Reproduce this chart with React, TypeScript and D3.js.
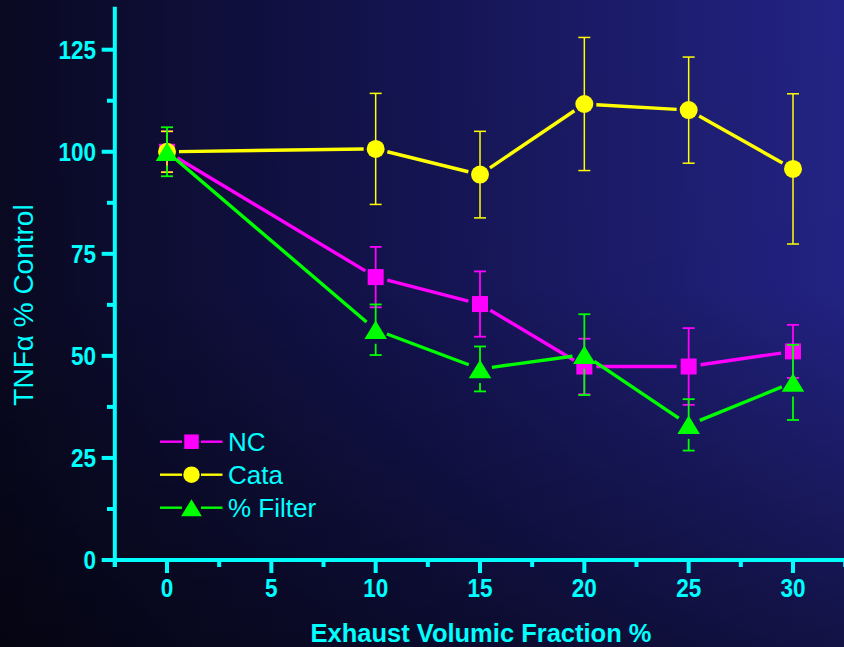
import React from "react";
import * as d3 from "d3";

const xValues = [0, 10, 15, 20, 25, 30];
const ncMean = [100, 69.3, 62.7, 47.4, 47.4, 51.1];
const ncErr = [5, 7.4, 8, 6.8, 9.4, 6.5];
const cataMean = [100, 100.7, 94.4, 111.7, 110.2, 95.8];
const cataErr = [5, 13.6, 10.6, 16.3, 13, 18.4];
const filterMean = [100, 56.4, 46.8, 50.3, 33.1, 43.5];
const filterErr = [6, 6.2, 5.5, 9.9, 6.3, 9.2];
const xTickLabels = [0, 5, 10, 15, 20, 25, 30];
const yTickLabels = [0, 25, 50, 75, 100, 125];
const seriesNames = ["NC", "Cata", "% Filter"];

const W = 844;
const H = 647;
const CYAN = "#00ffff";
const FONT = "'Liberation Sans', Arial, Helvetica, sans-serif";

const x = d3.scaleLinear().domain([0, 30]).range([167, 793]);
const y = d3.scaleLinear().domain([0, 125]).range([560, 49.7]);

type Shape = "square" | "circle" | "triangle";

function Marker({ cx, cy, shape, color, size }: { cx: number; cy: number; shape: Shape; color: string; size: number }) {
  if (shape === "square") {
    return <rect x={cx - size / 2} y={cy - size / 2} width={size} height={size} fill={color} />;
  }
  if (shape === "circle") {
    return <circle cx={cx} cy={cy} r={size / 2} fill={color} />;
  }
  const w = size * 1.22;
  const h = size;
  return (
    <path
      d={`M${cx},${cy - h / 2} L${cx + w / 2},${cy + h / 2} L${cx - w / 2},${cy + h / 2} Z`}
      fill={color}
    />
  );
}

function Series({ means, errs, color, shape, size, lowerGap, errWidth }: { means: number[]; errs: number[]; color: string; shape: Shape; size: number; lowerGap: number; errWidth: number }) {
  const pts = xValues.map((xv, i) => [x(xv), y(means[i])] as [number, number]);
  const segs: JSX.Element[] = [];
  for (let i = 0; i < pts.length - 1; i++) {
    const [x1, y1] = pts[i];
    const [x2, y2] = pts[i + 1];
    const len = Math.hypot(x2 - x1, y2 - y1);
    const g = 12;
    if (len <= 2 * g) continue;
    const ux = (x2 - x1) / len;
    const uy = (y2 - y1) / len;
    segs.push(
      <line key={"s" + i} x1={x1 + ux * g} y1={y1 + uy * g} x2={x2 - ux * g} y2={y2 - uy * g} stroke={color} strokeWidth={3.4} />
    );
  }
  const capHalf = 6;
  return (
    <g>
      {xValues.map((xv, i) => {
        const cx = x(xv);
        const cy = y(means[i]);
        const top = y(means[i] + errs[i]);
        const bot = y(means[i] - errs[i]);
        return (
          <g key={"e" + i} stroke={color} strokeWidth={errWidth}>
            <line x1={cx} x2={cx} y1={top} y2={cy} />
            <line x1={cx} x2={cx} y1={Math.min(cy + lowerGap, bot)} y2={bot} />
            <line x1={cx - capHalf} x2={cx + capHalf} y1={top} y2={top} />
            <line x1={cx - capHalf} x2={cx + capHalf} y1={bot} y2={bot} />
          </g>
        );
      })}
      {segs}
      {pts.map(([px, py], i) => (
        <Marker key={"m" + i} cx={px} cy={py} shape={shape} color={color} size={size} />
      ))}
    </g>
  );
}

export default function App() {
  const yMinor = d3.range(12.5, 130, 25);
  const xMinor = d3.range(-2.5, 36, 5);
  const legendColors = ["#ff00ff", "#ffff00", "#00ff00"];
  const legendShapes: Shape[] = ["square", "circle", "triangle"];
  const legendSizes = [14.5, 16.5, 17];
  const legendY = [441.7, 474.7, 507.7];
  return (
    <svg
      width={W}
      height={H}
      style={{ position: "fixed", left: 0, top: 0, display: "block" }}
      fontFamily={FONT}
    >
      <defs>
        <linearGradient id="bgH" x1="0" y1="0" x2="1" y2="0">
          <stop offset="0" stopColor="#090922" />
          <stop offset="0.5" stopColor="#141452" />
          <stop offset="1" stopColor="#232385" />
        </linearGradient>
        <linearGradient id="bgV" x1="0" y1="0" x2="0" y2="1">
          <stop offset="0" stopColor="#000000" stopOpacity="0" />
          <stop offset="0.45" stopColor="#000000" stopOpacity="0.02" />
          <stop offset="1" stopColor="#000000" stopOpacity="0.48" />
        </linearGradient>
      </defs>
      <rect x={0} y={0} width={W} height={H} fill="url(#bgH)" />
      <rect x={0} y={0} width={W} height={H} fill="url(#bgV)" />

      {/* Axes */}
      <g stroke={CYAN} strokeWidth={4}>
        <line x1={x(-2.5)} x2={x(-2.5)} y1={y(135.5)} y2={567} />
        <line x1={x(-2.5)} x2={W} y1={y(0)} y2={y(0)} />
        {yTickLabels.map((v) => (
          <line key={"yt" + v} x1={101.7} x2={x(-2.5)} y1={y(v)} y2={y(v)} />
        ))}
        {yMinor.map((v) => (
          <line key={"ym" + v} x1={107} x2={x(-2.5)} y1={y(v)} y2={y(v)} />
        ))}
        {xTickLabels.map((v) => (
          <line key={"xt" + v} x1={x(v)} x2={x(v)} y1={y(0)} y2={573} />
        ))}
        {xMinor.map((v) => (
          <line key={"xm" + v} x1={x(v)} x2={x(v)} y1={y(0)} y2={567} />
        ))}
      </g>
      <g fill={CYAN} fontWeight="bold" fontSize={25}>
        {yTickLabels.map((v) => (
          <text key={"yl" + v} transform={`translate(96,${y(v) + 8.8}) scale(0.9,1)`} textAnchor="end">
            {v}
          </text>
        ))}
        {xTickLabels.map((v) => (
          <text key={"xl" + v} transform={`translate(${x(v)},597) scale(0.9,1)`} textAnchor="middle">
            {v}
          </text>
        ))}
      </g>
      <text x={481} y={642} textAnchor="middle" fill={CYAN} fontWeight="bold" fontSize={25.5}>
        Exhaust Volumic Fraction %
      </text>
      <text
        transform={`translate(33,305) rotate(-90)`}
        textAnchor="middle"
        fill={CYAN}
        fontSize={28}
      >
        TNFα % Control
      </text>

      {/* Data */}
      <Series means={ncMean} errs={ncErr} color="#ff00ff" shape="square" size={16} lowerGap={0} errWidth={1.8} />
      <Series means={cataMean} errs={cataErr} color="#ffff00" shape="circle" size={18} lowerGap={0} errWidth={1.5} />
      <Series means={filterMean} errs={filterErr} color="#00ff00" shape="triangle" size={18.5} lowerGap={14} errWidth={1.8} />

      {/* Legend */}
      {seriesNames.map((name, i) => (
        <g key={name}>
          <line x1={160} x2={182} y1={legendY[i]} y2={legendY[i]} stroke={legendColors[i]} strokeWidth={2.4} />
          <line x1={201} x2={222.5} y1={legendY[i]} y2={legendY[i]} stroke={legendColors[i]} strokeWidth={2.4} />
          <Marker cx={191.5} cy={legendY[i]} shape={legendShapes[i]} color={legendColors[i]} size={legendSizes[i]} />
          <text x={228} y={legendY[i] + 9.5} fill={CYAN} fontSize={26}>
            {name}
          </text>
        </g>
      ))}
    </svg>
  );
}
